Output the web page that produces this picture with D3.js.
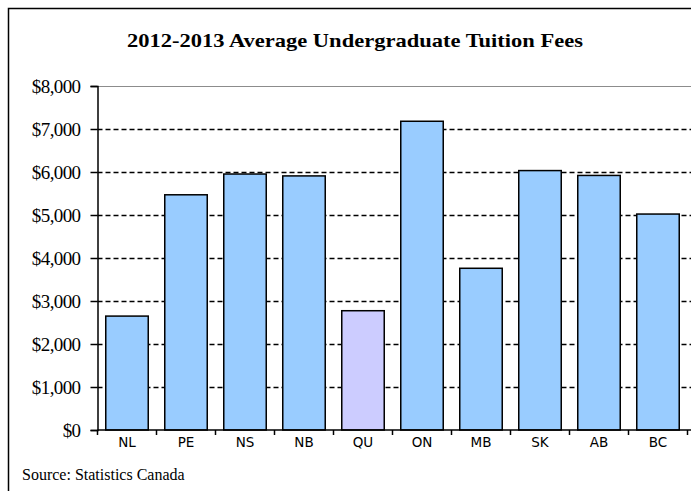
<!DOCTYPE html>
<html>
<head>
<meta charset="utf-8">
<script src="https://cdn.jsdelivr.net/npm/d3@7"></script>
<style>
    body { margin: 0; background: #fff; }
    svg { display: block; }
</style>
</head>
<body>
<svg class="tuition-chart" width="691" height="491"></svg>
<script>
// values
const provinces = ["NL", "PE", "NS", "NB", "QU", "ON", "MB", "SK", "AB", "BC"];
const fees = [2649, 5470, 5953, 5909, 2774, 7180, 3761, 6033, 5920, 5022];
const yTicks = [0, 1000, 2000, 3000, 4000, 5000, 6000, 7000, 8000];
const highlight = ["QU"];

const svg = d3.select('.tuition-chart');

const plot = { left: 97.5, right: 687.5, top: 86, bottom: 430 };

// outer frame, runs off the right and bottom edges
svg.append("rect")
    .attr("x", 8.5).attr("y", 8.5)
    .attr("width", 700).attr("height", 500)
    .attr("fill", "none")
    .attr("stroke", "#000")
    .attr("stroke-width", 1.5);

const x = d3.scaleBand()
    .domain(provinces)
    .range([plot.left, plot.right])
    .paddingInner(0.28)
    .paddingOuter(0.14);

const y = d3.scaleLinear()
    .domain([0, 8000])
    .range([plot.bottom, plot.top]);

// gridlines
svg.append("g").selectAll("line")
    .data(yTicks.filter(t => t > 0))
    .join("line")
    .attr("x1", plot.left)
    .attr("x2", 691)
    .attr("y1", d => Math.round(y(d)) + 0.5)
    .attr("y2", d => Math.round(y(d)) + 0.5)
    .attr("stroke", d => d === 8000 ? "#8c8c8c" : "#000")
    .attr("stroke-width", d => d === 8000 ? 1.2 : 1.3)
    .attr("stroke-dasharray", d => d === 8000 ? null : "5,3");

// bars
svg.append("g").selectAll("rect")
    .data(provinces)
    .join("rect")
    .attr("x", d => x(d))
    .attr("y", (d, i) => y(fees[i]))
    .attr("width", x.bandwidth())
    .attr("height", (d, i) => y(0) - y(fees[i]))
    .attr("fill", d => highlight.includes(d) ? "#ccccff" : "#99ccff")
    .attr("stroke", "#000")
    .attr("stroke-width", 1.5);

// y axis
const yAxis = svg.append("g")
    .attr("transform", `translate(${plot.left},0)`)
    .call(d3.axisLeft(y).tickValues(yTicks).tickSize(7).tickPadding(10)
        .tickFormat(d => "$" + d3.format(",")(d)));
yAxis.select(".domain").attr("stroke", "#000").attr("stroke-width", 1.5);
yAxis.selectAll(".tick line").attr("stroke", "#000").attr("stroke-width", 1.5);
yAxis.selectAll("text")
    .attr("font-family", "'Liberation Serif', 'Times New Roman', serif")
    .attr("font-size", 19)
    .attr("letter-spacing", -0.6)
    .attr("fill", "#000");

// x axis: ticks sit on the category boundaries
const xAxis = svg.append("g")
    .attr("transform", `translate(0,${plot.bottom})`);
xAxis.append("line")
    .attr("x1", plot.left).attr("x2", 691)
    .attr("stroke", "#000").attr("stroke-width", 1.5);
const step = x.step();
xAxis.selectAll(".sep")
    .data(d3.range(provinces.length + 1))
    .join("line")
    .attr("class", "sep")
    .attr("x1", i => plot.left + i * step)
    .attr("x2", i => plot.left + i * step)
    .attr("y1", 0).attr("y2", 5)
    .attr("stroke", "#000").attr("stroke-width", 1.5);
xAxis.selectAll("text")
    .data(provinces)
    .join("text")
    .attr("x", d => x(d) + x.bandwidth() / 2)
    .attr("y", 17)
    .attr("text-anchor", "middle")
    .attr("font-family", "'DejaVu Sans', Verdana, sans-serif")
    .attr("font-size", 13.5)
    .attr("fill", "#000")
    .text(d => d);

// title
svg.append("text")
    .attr("x", 355)
    .attr("y", 47)
    .attr("text-anchor", "middle")
    .attr("font-family", "'Liberation Serif', 'Times New Roman', serif")
    .attr("font-weight", "bold")
    .attr("font-size", 19.5)
    .attr("textLength", 456)
    .attr("lengthAdjust", "spacingAndGlyphs")
    .text("2012-2013 Average Undergraduate Tuition Fees");

// source note
svg.append("text")
    .attr("x", 22)
    .attr("y", 480)
    .attr("font-family", "'Liberation Serif', 'Times New Roman', serif")
    .attr("font-size", 16)
    .text("Source: Statistics Canada");
</script>
</body>
</html>
